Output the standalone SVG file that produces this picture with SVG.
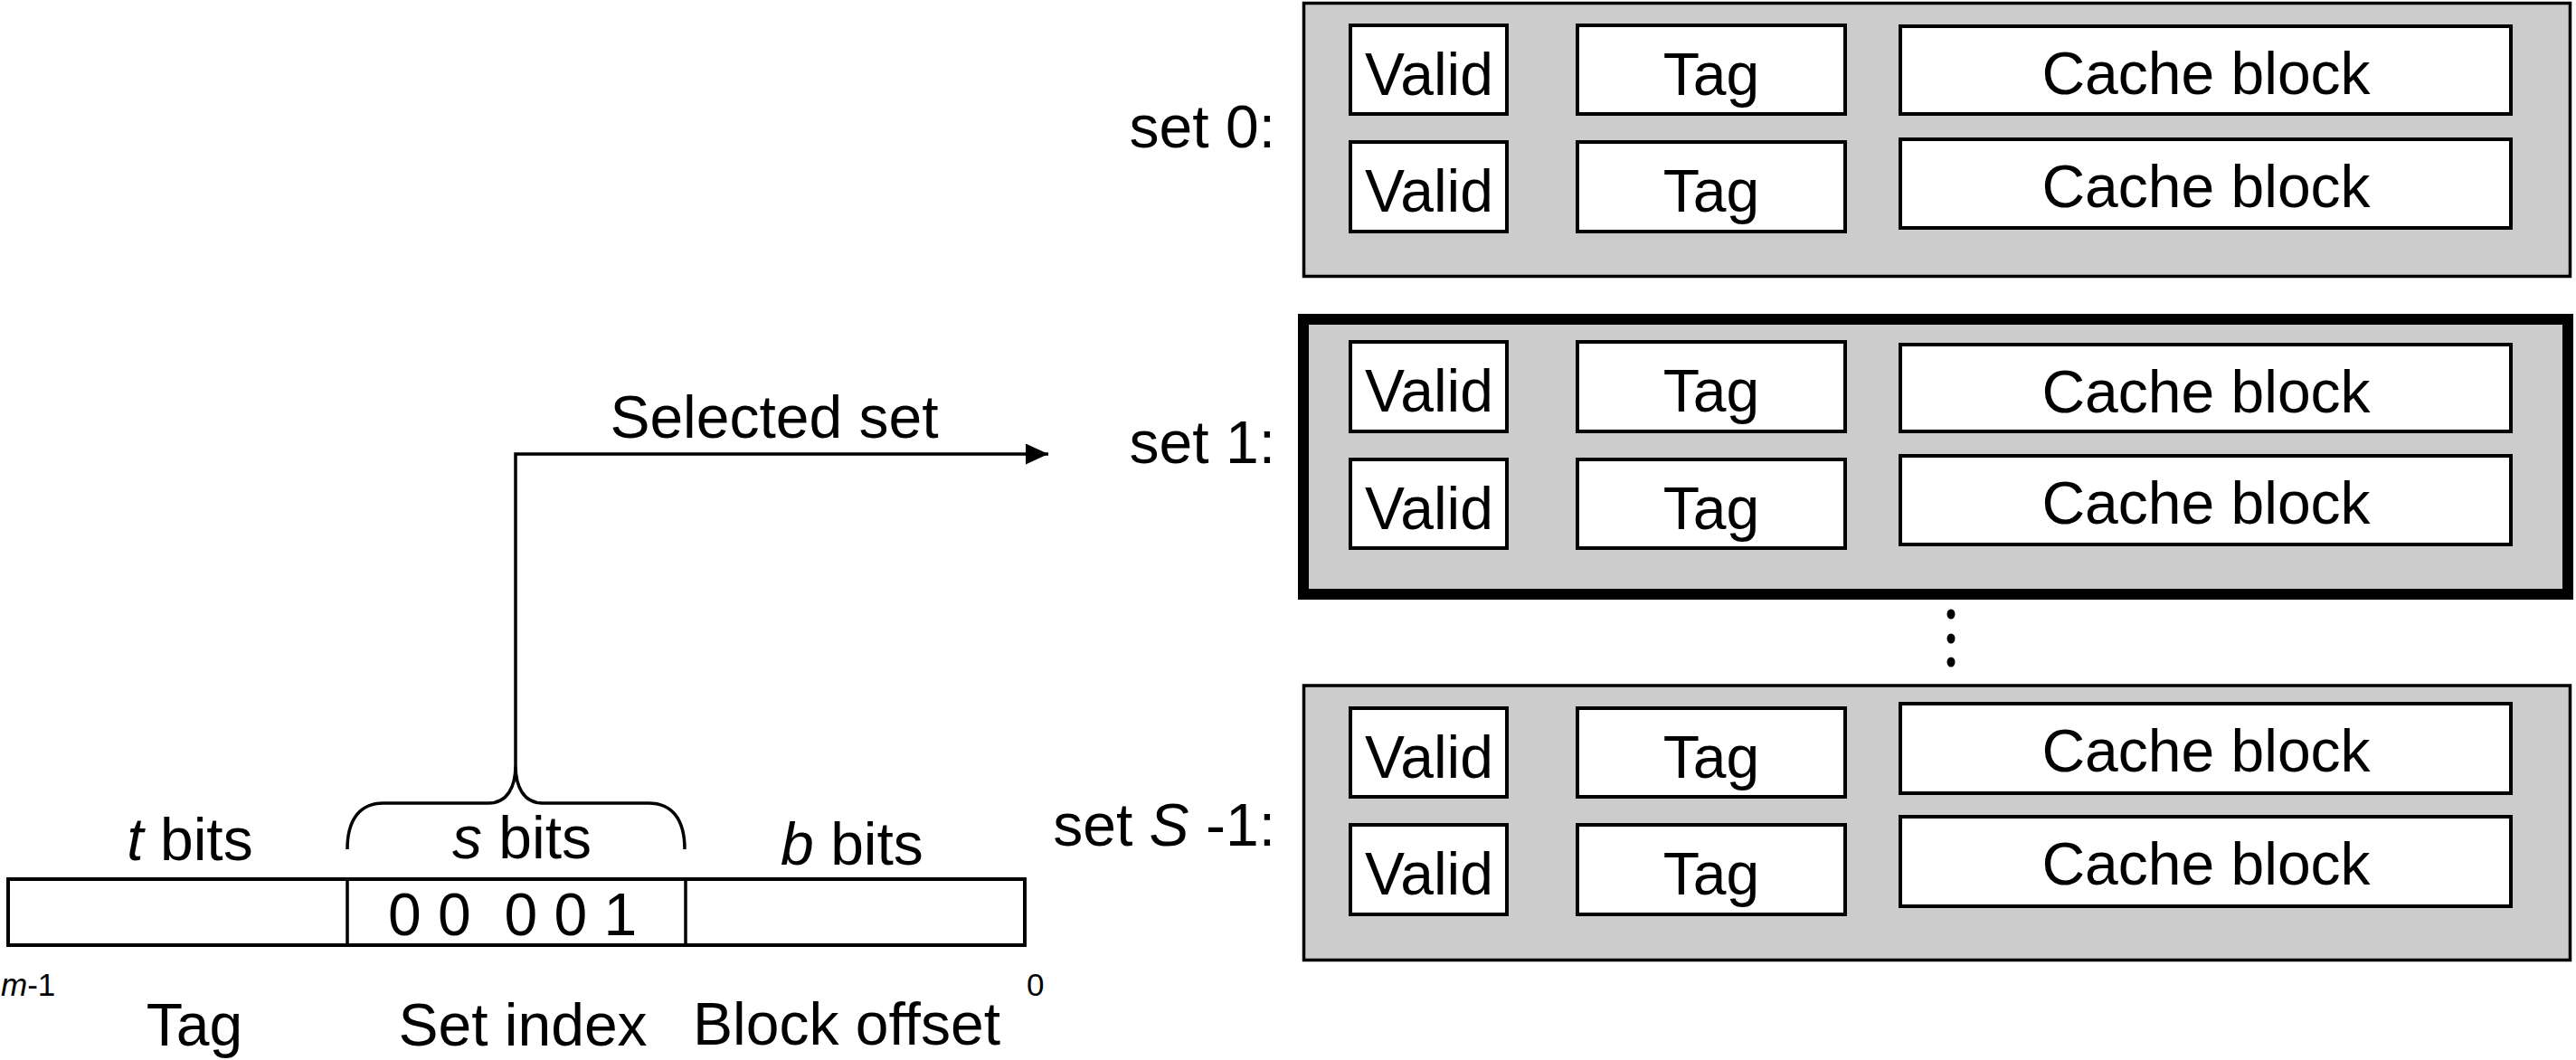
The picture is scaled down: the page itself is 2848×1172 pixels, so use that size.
<svg xmlns="http://www.w3.org/2000/svg" width="2848" height="1172" viewBox="0 0 2848 1172">
<style>
text{font-family:"Liberation Sans",Arial,Helvetica,sans-serif;font-size:66px;fill:#000}
.c{text-anchor:middle}
.e{text-anchor:end}
.sm{font-size:35px}
.i{font-style:italic}
.set{fill:#cccccc;stroke:#000;stroke-width:3.5}
.sel{fill:#cccccc;stroke:#000;stroke-width:12}
.cell{fill:#fff;stroke:#000;stroke-width:4}
.line{fill:none;stroke:#000;stroke-width:3.5}
.box{fill:#fff;stroke:#000;stroke-width:4}
</style>
<defs>
<marker id="arrow" markerUnits="userSpaceOnUse" markerWidth="25" markerHeight="23" viewBox="0 0 25 23" refX="25" refY="11.5" orient="auto">
<path d="M0,0 L25,11.5 L0,23 Z" fill="#000"/>
</marker>
</defs>
<rect width="2848" height="1172" fill="#fff"/>

<g id="set0">
<rect class="set" x="1441.5" y="3.5" width="1400" height="302"/>
<text class="e" x="1410" y="163">set 0:</text>
<rect class="cell" x="1493" y="28" width="173" height="98"/>
<text class="c" x="1580" y="105">Valid</text>
<rect class="cell" x="1744" y="28" width="296" height="98"/>
<text class="c" x="1892" y="105">Tag</text>
<rect class="cell" x="2101" y="29" width="675" height="97"/>
<text class="c" x="2439" y="104">Cache block</text>
<rect class="cell" x="1493" y="157" width="173" height="99"/>
<text class="c" x="1580" y="234">Valid</text>
<rect class="cell" x="1744" y="157" width="296" height="99"/>
<text class="c" x="1892" y="234">Tag</text>
<rect class="cell" x="2101" y="154" width="675" height="98"/>
<text class="c" x="2439" y="229">Cache block</text>
</g>

<g id="set1">
<rect class="sel" x="1441" y="353" width="1398" height="304"/>
<text class="e" x="1410" y="512">set 1:</text>
<rect class="cell" x="1493" y="378" width="173" height="99"/>
<text class="c" x="1580" y="455">Valid</text>
<rect class="cell" x="1744" y="378" width="296" height="99"/>
<text class="c" x="1892" y="455">Tag</text>
<rect class="cell" x="2101" y="381" width="675" height="96"/>
<text class="c" x="2439" y="456">Cache block</text>
<rect class="cell" x="1493" y="508" width="173" height="98"/>
<text class="c" x="1580" y="585">Valid</text>
<rect class="cell" x="1744" y="508" width="296" height="98"/>
<text class="c" x="1892" y="585">Tag</text>
<rect class="cell" x="2101" y="504" width="675" height="98"/>
<text class="c" x="2439" y="579">Cache block</text>
</g>

<g id="ellipsis">
<ellipse cx="2157" cy="679" rx="4.5" ry="5.5"/>
<ellipse cx="2157" cy="706" rx="4.5" ry="5.5"/>
<ellipse cx="2157" cy="732" rx="4.5" ry="5.5"/>
</g>

<g id="setS1">
<rect class="set" x="1441.5" y="758" width="1400" height="303.5"/>
<text class="e" x="1410" y="935">set <tspan class="i">S</tspan> -1:</text>
<rect class="cell" x="1493" y="783" width="173" height="98"/>
<text class="c" x="1580" y="860">Valid</text>
<rect class="cell" x="1744" y="783" width="296" height="98"/>
<text class="c" x="1892" y="860">Tag</text>
<rect class="cell" x="2101" y="778" width="675" height="99"/>
<text class="c" x="2439" y="853">Cache block</text>
<rect class="cell" x="1493" y="912" width="173" height="99"/>
<text class="c" x="1580" y="989">Valid</text>
<rect class="cell" x="1744" y="912" width="296" height="99"/>
<text class="c" x="1892" y="989">Tag</text>
<rect class="cell" x="2101" y="903" width="675" height="99"/>
<text class="c" x="2439" y="978">Cache block</text>
</g>

<g id="address">
<rect class="box" x="9" y="972" width="1124" height="73"/>
<line class="line" x1="384" y1="972" x2="384" y2="1045" stroke-width="4"/>
<line class="line" x1="758" y1="972" x2="758" y2="1045" stroke-width="4"/>
<text class="c" x="210" y="951"><tspan class="i">t</tspan> bits</text>
<text class="c" x="577" y="949"><tspan class="i">s</tspan> bits</text>
<text class="c" x="942" y="956"><tspan class="i">b</tspan> bits</text>
<text x="429" y="1034" xml:space="preserve">0 0  0 0 1</text>
<text class="sm" x="1" y="1101"><tspan class="i">m</tspan>-1</text>
<text class="sm" x="1135" y="1101">0</text>
<text class="c" x="215" y="1156">Tag</text>
<text class="c" x="578" y="1156">Set index</text>
<text class="c" x="936" y="1155">Block offset</text>
</g>

<g id="connectors">
<path class="line" d="M384,939 C384,906 398,888 424,888 L540,888 C561,888 570,870 570,846 C570,870 579,888 600,888 L717,888 C743,888 757,906 757,939"/>
<path class="line" d="M570,846 L570,502 L1159,502" marker-end="url(#arrow)"/>
<text class="c" x="856" y="484">Selected set</text>
</g>
</svg>
